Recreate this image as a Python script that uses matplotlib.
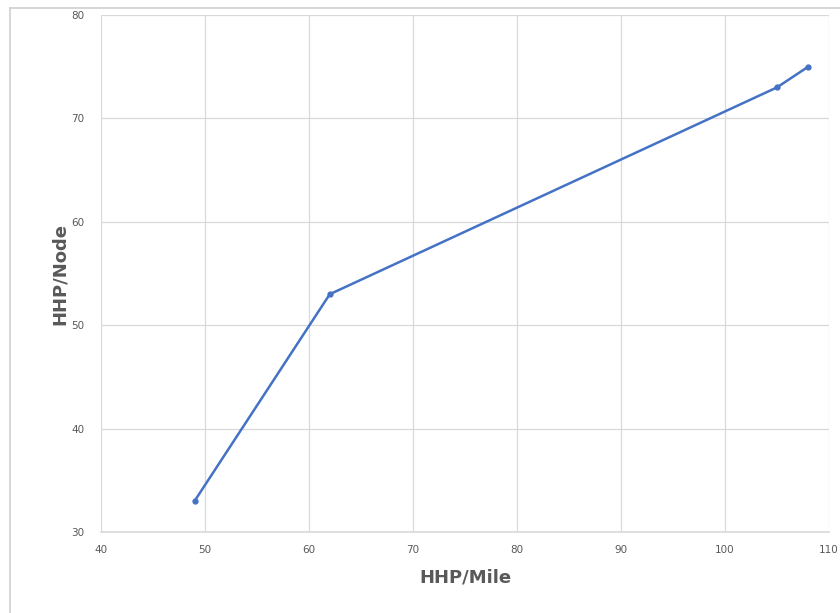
import matplotlib.pyplot as plt
from matplotlib.lines import Line2D

# values
hhp_mile = [49, 62, 105, 108]
hhp_node = [33, 53, 73, 75]
x_ticks = [40, 50, 60, 70, 80, 90, 100, 110]
y_ticks = [30, 40, 50, 60, 70, 80]

blue = "#4472C4"
grey_text = "#595959"
grid_col = "#D9D9D9"

fig = plt.figure(figsize=(8.4, 6.13), dpi=100)
ax = fig.add_axes([0.1202, 0.1321, 0.8667, 0.8434])

ax.plot(hhp_mile, hhp_node, color=blue, linewidth=1.8,
        marker="o", markersize=3.5, zorder=3)

ax.set_xlim(40, 110)
ax.set_ylim(30, 80)
ax.set_xticks(x_ticks)
ax.set_yticks(y_ticks)
ax.grid(True, color=grid_col, linewidth=0.9)
ax.set_axisbelow(True)
for side in ["top", "right", "left"]:
    ax.spines[side].set_visible(False)
ax.spines["bottom"].set_color(grid_col)
ax.spines["bottom"].set_linewidth(1.2)
ax.tick_params(length=0, labelsize=7.5, labelcolor=grey_text)
ax.tick_params(axis="x", pad=9)
ax.tick_params(axis="y", pad=12)

ax.set_xlabel("HHP/Mile", fontsize=13, fontweight="bold", color=grey_text, labelpad=10)
ax.set_ylabel("HHP/Node", fontsize=13, fontweight="bold", color=grey_text, labelpad=2)

# thin frame around the chart area (top and left edges visible in reference)
fig.add_artist(Line2D([10 / 840, 10 / 840], [0, 1 - 8 / 613], color="#D0D0D0", linewidth=1.2, transform=fig.transFigure))
fig.add_artist(Line2D([10 / 840, 1], [1 - 8 / 613, 1 - 8 / 613], color="#D0D0D0", linewidth=1.2, transform=fig.transFigure))

fig.savefig("out.png", dpi=100)
